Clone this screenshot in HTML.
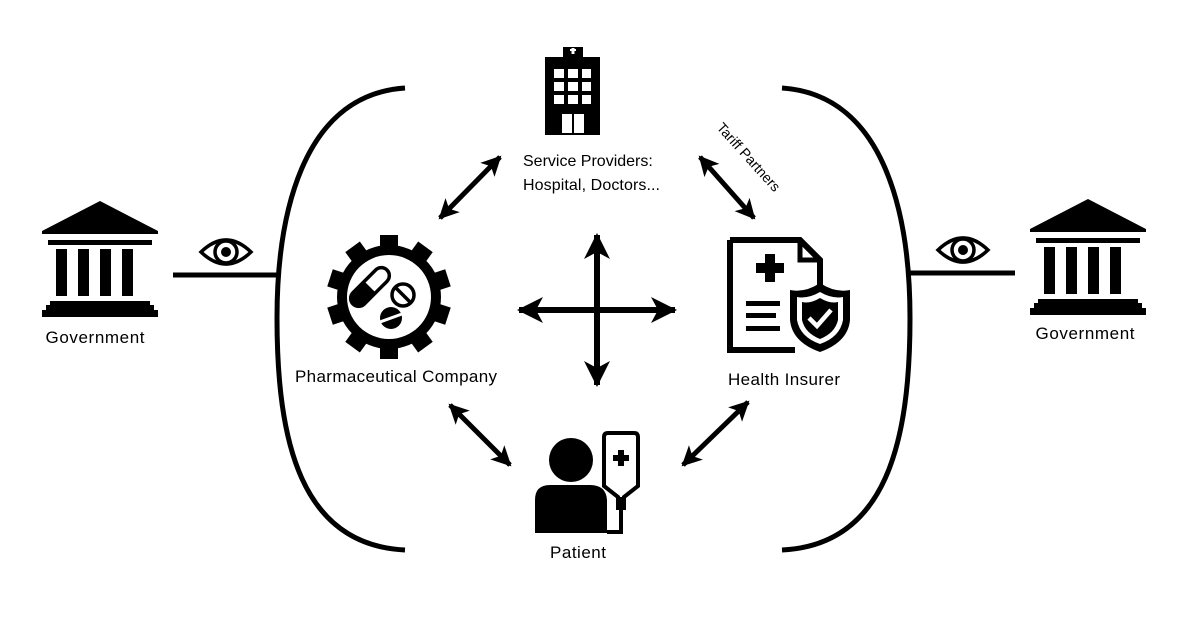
<!DOCTYPE html>
<html><head><meta charset="utf-8"><style>
html,body{margin:0;padding:0;background:#fff;width:1200px;height:618px;overflow:hidden}
text{font-family:"Liberation Sans",sans-serif;fill:#000}
</style></head><body>
<svg width="1200" height="618" viewBox="0 0 1200 618" xmlns="http://www.w3.org/2000/svg">
<defs>
<marker id="ah" viewBox="-26 -15 30 30" markerWidth="30" markerHeight="30" refX="0" refY="0" orient="auto-start-reverse" markerUnits="userSpaceOnUse">
<path d="M2,0 L-24,-13 L-17,0 L-24,13 Z" fill="#000"/>
</marker>
<marker id="ahs" viewBox="-20 -12 24 24" markerWidth="24" markerHeight="24" refX="0" refY="0" orient="auto-start-reverse" markerUnits="userSpaceOnUse">
<path d="M2,0 L-18,-10 L-13,0 L-18,10 Z" fill="#000"/>
</marker>
<g id="gov">
<path d="M0,0 L58,30 L58,33 L-58,33 L-58,30 Z" fill="#000"/>
<rect x="-52" y="39" width="104" height="5"/>
<rect x="-44" y="48" width="11" height="47"/>
<rect x="-22" y="48" width="11" height="47"/>
<rect x="0" y="48" width="11" height="47"/>
<rect x="22" y="48" width="11" height="47"/>
<rect x="-50" y="100" width="100" height="6"/>
<rect x="-54" y="104" width="108" height="6"/>
<rect x="-58" y="109" width="116" height="7"/>
</g>
<g id="eye">
<path d="M-25,0 Q0,-24 25,0 Q0,24 -25,0 Z" fill="none" stroke="#000" stroke-width="3.5"/>
<circle cx="0" cy="0" r="11" fill="none" stroke="#000" stroke-width="3.5"/>
<circle cx="0" cy="0" r="5" fill="#000"/>
</g>
</defs>

<path d="M405,88 C300,95 277,220 277,318 C277,440 300,545 405,550" fill="none" stroke="#000" stroke-width="5"/>
<path d="M782,88 C887,95 910,220 910,318 C910,440 887,545 782,550" fill="none" stroke="#000" stroke-width="5"/>
<line x1="173" y1="275" x2="278" y2="275" stroke="#000" stroke-width="5"/>
<line x1="910" y1="273" x2="1015" y2="273" stroke="#000" stroke-width="5"/>

<use href="#gov" transform="translate(100,201)"/>
<use href="#gov" transform="translate(1088,199)"/>
<use href="#eye" transform="translate(226,252)"/>
<use href="#eye" transform="translate(963,250)"/>
<text x="95" y="343" font-size="17" text-anchor="middle" textLength="99">Government</text>
<text x="1085" y="339" font-size="17" text-anchor="middle" textLength="99">Government</text>

<rect x="563" y="47" width="20" height="12"/>
<rect x="545" y="57" width="55" height="78"/>
<rect x="570" y="49" width="6" height="2" fill="#fff"/>
<rect x="571.5" y="48" width="3" height="6" fill="#fff"/>
<g fill="#fff">
<rect x="554" y="69" width="10" height="9"/><rect x="568" y="69" width="10" height="9"/><rect x="582" y="69" width="9" height="9"/>
<rect x="554" y="82" width="10" height="9"/><rect x="568" y="82" width="10" height="9"/><rect x="582" y="82" width="9" height="9"/>
<rect x="554" y="95" width="10" height="9"/><rect x="568" y="95" width="10" height="9"/><rect x="582" y="95" width="9" height="9"/>
<rect x="562" y="114" width="10" height="19"/><rect x="574" y="114" width="10" height="19"/>
</g>
<text x="523" y="166" font-size="16">Service Providers:</text>
<text x="523" y="190" font-size="16" textLength="137">Hospital, Doctors...</text>
<text transform="translate(716,128) rotate(48)" font-size="14">Tariff Partners</text>

<g transform="translate(389,297)">
<circle r="52" fill="#000"/>
<g fill="#000">
<rect x="-9" y="-62" width="18" height="16"/>
<rect x="-9" y="-62" width="18" height="16" transform="rotate(36)"/>
<rect x="-9" y="-62" width="18" height="16" transform="rotate(72)"/>
<rect x="-9" y="-62" width="18" height="16" transform="rotate(108)"/>
<rect x="-9" y="-62" width="18" height="16" transform="rotate(144)"/>
<rect x="-9" y="-62" width="18" height="16" transform="rotate(180)"/>
<rect x="-9" y="-62" width="18" height="16" transform="rotate(216)"/>
<rect x="-9" y="-62" width="18" height="16" transform="rotate(252)"/>
<rect x="-9" y="-62" width="18" height="16" transform="rotate(288)"/>
<rect x="-9" y="-62" width="18" height="16" transform="rotate(324)"/>
</g>
<circle r="42" fill="#fff"/>
<g transform="translate(-19,-10) rotate(45)">
<rect x="-8" y="-24" width="16" height="48" rx="8" fill="#fff" stroke="#000" stroke-width="3.5"/>
<path d="M-8,0 L8,0 L8,16 A8,8 0 0 1 -8,16 Z" fill="#000"/>
</g>
<circle cx="14" cy="-2" r="11" fill="none" stroke="#000" stroke-width="3.5"/>
<line x1="6" y1="-10" x2="22" y2="6" stroke="#000" stroke-width="3.5"/>
<circle cx="2" cy="21" r="11" fill="#000"/>
<line x1="-9" y1="25" x2="13" y2="17" stroke="#fff" stroke-width="3"/>
</g>
<text x="295" y="382" font-size="17" textLength="202">Pharmaceutical Company</text>

<path d="M730,240 L800,240 L820,260 L820,290" fill="none" stroke="#000" stroke-width="6"/>
<path d="M730,240 L730,350 L795,350" fill="none" stroke="#000" stroke-width="6"/>
<path d="M800,240 L800,260 L820,260" fill="none" stroke="#000" stroke-width="5"/>
<path d="M756,263 h9 v-9 h10 v9 h9 v10 h-9 v9 h-10 v-9 h-9 Z" fill="#000"/>
<rect x="746" y="301" width="34" height="5"/>
<rect x="746" y="313" width="30" height="5"/>
<rect x="746" y="326" width="34" height="5"/>
<path d="M820,283 Q805,293 790,290 L790,320 Q792,342 820,352 Q848,342 850,320 L850,290 Q835,293 820,283 Z" fill="#000"/>
<path d="M820,292 Q808,299 797,297 L797,320 Q800,337 820,344 Q840,337 843,320 L843,297 Q832,299 820,292 Z" fill="#fff"/>
<path d="M820,298 Q810,304 802,302 L802,320 Q805,333 820,339 Q835,333 838,320 L838,302 Q830,304 820,298 Z" fill="#000"/>
<path d="M809,318 L817,326 L831,310" fill="none" stroke="#fff" stroke-width="4.5"/>
<text x="784" y="385" font-size="17" text-anchor="middle" textLength="112">Health Insurer</text>

<g stroke="#000" stroke-width="6" fill="none">
<line x1="519" y1="310" x2="675" y2="310" marker-start="url(#ah)" marker-end="url(#ah)"/>
<line x1="597" y1="235" x2="597" y2="385" marker-start="url(#ah)" marker-end="url(#ah)"/>
<line x1="440" y1="218" x2="500" y2="157" stroke-width="5" marker-start="url(#ahs)" marker-end="url(#ahs)"/>
<line x1="700" y1="157" x2="754" y2="218" stroke-width="5" marker-start="url(#ahs)" marker-end="url(#ahs)"/>
<line x1="450" y1="405" x2="510" y2="465" stroke-width="5" marker-start="url(#ahs)" marker-end="url(#ahs)"/>
<line x1="683" y1="465" x2="748" y2="402" stroke-width="5" marker-start="url(#ahs)" marker-end="url(#ahs)"/>
</g>

<circle cx="571" cy="460" r="22"/>
<path d="M535,533 L535,500 Q535,485 550,485 L590,485 Q606,485 607,500 L607,533 Z" fill="#000"/>
<path d="M604,437 Q604,433 608,433 L634,433 Q638,433 638,437 L638,486 L624,497 L624,508 L618,508 L618,497 L604,486 Z" fill="none" stroke="#000" stroke-width="4"/>
<rect x="617" y="497" width="8" height="11"/>
<path d="M621,508 L621,532 L607,532" fill="none" stroke="#000" stroke-width="4"/>
<path d="M613,455 h5 v-5 h6 v5 h5 v6 h-5 v5 h-6 v-5 h-5 Z" fill="#000"/>
<text x="578" y="558" font-size="17" text-anchor="middle" textLength="56">Patient</text>
</svg>
</body></html>
